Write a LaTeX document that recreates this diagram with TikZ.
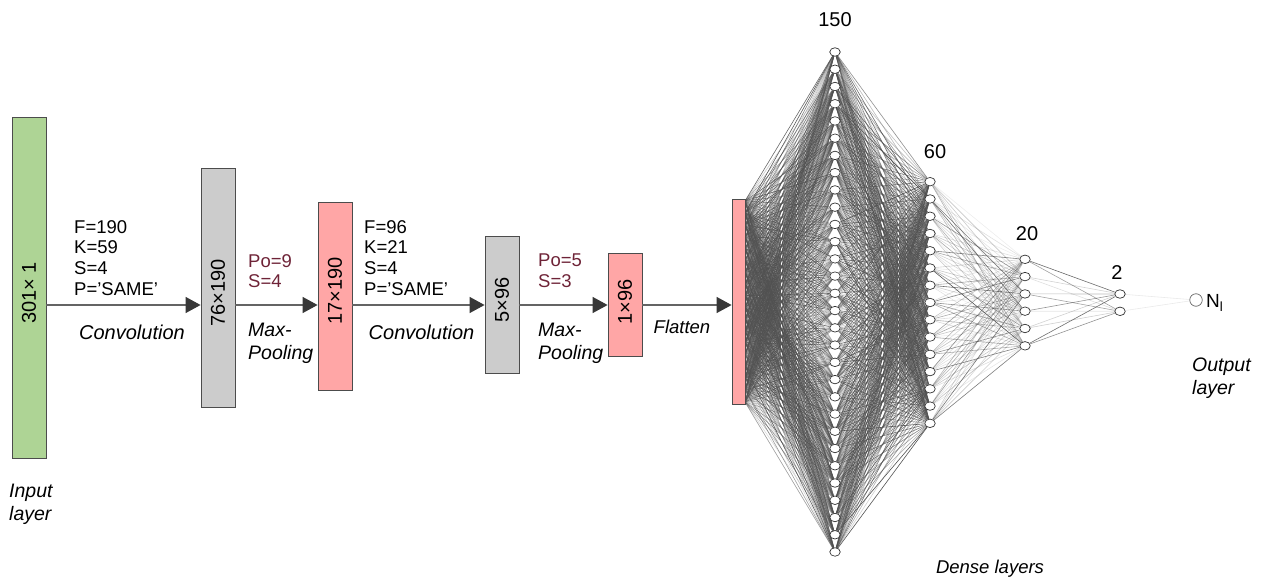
\documentclass[tikz,border=0pt]{standalone}
\usepackage{fontspec}
\setmainfont{Liberation Sans}
\usetikzlibrary{arrows.meta,shapes.geometric,backgrounds}
\definecolor{boxgreen}{RGB}{174,212,149}
\definecolor{boxgray}{RGB}{204,204,204}
\definecolor{boxpink}{RGB}{255,166,166}
\definecolor{parred}{RGB}{110,35,55}
\definecolor{wire}{RGB}{80,80,80}
\definecolor{arrowgray}{RGB}{100,100,100}
\definecolor{tipgray}{RGB}{55,55,55}
\begin{document}
\begin{tikzpicture}[x=1pt,y=-1pt,
  layerbox/.style={draw=black!70, line width=0.8pt, inner sep=0pt},
  boxlabel/.style={rotate=90, font=\fontsize{20}{22}\selectfont, inner sep=0pt},
  conn/.style={draw=arrowgray, line width=1.3pt, -{Triangle[length=15pt,width=16pt,color=tipgray,fill=tipgray]}},
  params/.style={anchor=north west, align=left, inner sep=0pt, font=\fontsize{18.5}{20.7}\selectfont},
  pool/.style={params, text=parred},
  oplabel/.style={font=\fontsize{20}{22}\selectfont\itshape, inner sep=0pt},
  opleft/.style={anchor=north west, align=left, inner sep=0pt, font=\fontsize{19.5}{22.5}\selectfont\itshape},
  count/.style={font=\fontsize{20}{22}\selectfont, inner sep=0pt},
  neuron/.style={ellipse, draw=black!80, fill=white, line width=0.7pt, minimum width=10.5pt, minimum height=8.5pt, inner sep=0pt},
  weight/.style={draw=wire, line width=0.6pt}
]
\useasboundingbox (0,0) rectangle (1262,578);

% ---------- convolutional part ----------
\node[layerbox, fill=boxgreen, minimum width=34pt, minimum height=341pt] (in) at (29,287.5) {};
\node[boxlabel] (inlbl) at (29,293) {301× 1};
\node[layerbox, fill=boxgray, minimum width=34pt, minimum height=239pt] (c1) at (218,287.5) {};
\node[boxlabel] (c1lbl) at (218,293) {76×190};
\node[layerbox, fill=boxpink, minimum width=34pt, minimum height=188pt] (p1) at (335,296) {};
\node[boxlabel] (p1lbl) at (335,291) {17×190};
\node[layerbox, fill=boxgray, minimum width=34pt, minimum height=137pt] (c2) at (502,304.5) {};
\node[boxlabel] (c2lbl) at (502,300) {5×96};
\node[layerbox, fill=boxpink, minimum width=34pt, minimum height=103pt] (p2) at (625,304.5) {};
\node[boxlabel] (p2lbl) at (625,302) {1×96};
\node[layerbox, fill=boxpink, minimum width=13pt, minimum height=205pt] (fl) at (738.5,301.5) {};

\coordinate (ay) at (0,305);
\draw[conn] (in.east |- ay) -- (c1.west |- ay);
\draw[conn] (c1.east |- ay) -- (p1.west |- ay);
\draw[conn] (p1.east |- ay) -- (c2.west |- ay);
\draw[conn] (c2.east |- ay) -- (p2.west |- ay);
\draw[conn] (p2.east |- ay) -- (fl.west |- ay);

\node[params] (par1) at (74,220) {F=190\\K=59\\S=4\\P=’SAME’};
\node[oplabel] (conv1) at (132,332) {Convolution};
\node[pool] (pool1) at (248,254) {Po=9\\S=4};
\node[opleft] (mp1) at (248,323) {Max-\\Pooling};
\node[params] (par2) at (364,220) {F=96\\K=21\\S=4\\P=’SAME’};
\node[oplabel] (conv2) at (421.5,332) {Convolution};
\node[pool] (pool2) at (538,254) {Po=5\\S=3};
\node[opleft] (mp2) at (538,323) {Max-\\Pooling};
\node[font=\fontsize{18.5}{20}\selectfont\itshape, inner sep=0pt] (flt) at (682,327) {Flatten};
\node[opleft] (inputlbl) at (9,484) {Input\\layer};

% ---------- dense part ----------
\foreach \i in {1,...,30} {
  \node[neuron] (a\i) at (835,{52+17.24*(\i-1)}) {};
}
\foreach \i in {1,...,15} {
  \node[neuron] (b\i) at (930,{181.7+17.26*(\i-1)}) {};
}
\foreach \i in {1,...,6} {
  \node[neuron] (c\i) at (1025,{259.3+17.3*(\i-1)}) {};
}
\node[neuron] (d1) at (1120,294) {};
\node[neuron] (d2) at (1120,311.3) {};
\node[circle, draw=black!60, fill=white, line width=0.7pt, minimum size=12.5pt, inner sep=0pt] (out) at (1196,300) {};
\node[anchor=west, inner sep=0pt, font=\fontsize{19}{21}\selectfont] (outlbl) at (1206,303) {N\textsubscript{l}};

\foreach \i in {1,...,18} {
  \coordinate (f\i) at (745,{201+201*(\i-1)/17});
}

\begin{pgfonlayer}{background}
  \pgfmathsetseed{7}
  \foreach \i in {1,...,18} {
    \foreach \j in {1,...,30} {
      \pgfmathsetmacro\op{0.2+0.75*rnd}
      \draw[weight, draw opacity=\op] (f\i) -- (a\j);
    }
  }
  \foreach \i in {1,...,30} {
    \foreach \j in {1,...,15} {
      \pgfmathsetmacro\op{0.25+0.75*rnd}
      \draw[weight, draw opacity=\op] (a\i) -- (b\j);
    }
  }
  \foreach \i in {1,...,15} {
    \foreach \j in {1,...,6} {
      \pgfmathsetmacro\op{0.1+0.9*rnd*rnd}
      \draw[weight, draw opacity=\op] (b\i) -- (c\j);
    }
  }
  \foreach \i in {1,...,6} {
    \foreach \j in {1,2} {
      \pgfmathsetmacro\op{0.12+0.8*rnd}
      \draw[weight, draw opacity=\op] (c\i) -- (d\j);
    }
  }
  \draw[weight, draw opacity=0.12] (d1) -- (out);
  \draw[weight, draw opacity=0.12] (d2) -- (out);
\end{pgfonlayer}

\node[count] (n150) at (835,20) {150};
\node[count] (n60) at (935,152) {60};
\node[count] (n20) at (1027,234) {20};
\node[count] (n2) at (1117,273) {2};
\node[opleft] (outputlbl) at (1192,358) {Output\\layer};
\node[font=\fontsize{18.5}{20}\selectfont\itshape, inner sep=0pt] (dense) at (990,569) {Dense layers};
\end{tikzpicture}
\end{document}
